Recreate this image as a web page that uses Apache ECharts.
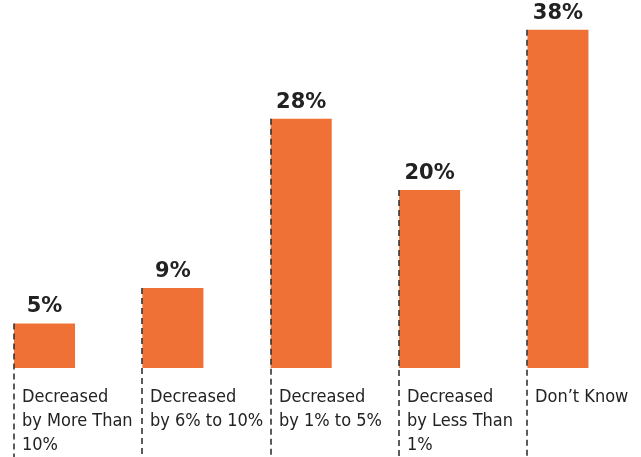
<!DOCTYPE html>
<html>
<head>
<meta charset="utf-8">
<script src="https://cdn.jsdelivr.net/npm/echarts@6/dist/echarts.min.js"></script>
<style>
  html, body { margin: 0; padding: 0; background: #fff; }
  #chart { width: 641px; height: 457px; }
</style>
</head>
<body>
<div id="chart"></div>
<script>
const categories = [
  'Decreased\nby More Than\n10%',
  'Decreased\nby 6% to 10%',
  'Decreased\nby 1% to 5%',
  'Decreased\nby Less Than\n1%',
  'Don\u2019t Know'
];
const values = [5, 9, 28, 20, 38];

const barWidth = 61;
const orange = '#EF7135';
const ink = '#222222';

const chart = echarts.init(document.getElementById('chart'));

// dashed guide at the left edge of each bar + left-aligned category text
const renderGuide = (params, api) => {
  const i = api.value(0);
  const top = api.coord([i, api.value(1)]);
  const base = api.coord([i, 0]);
  const x = Math.round(top[0] - barWidth / 2);
  return {
    type: 'group',
    children: [
      {
        type: 'line',
        shape: { x1: x, y1: top[1], x2: x, y2: api.getHeight() },
        style: { stroke: '#333', lineWidth: 1.6, lineDash: [6, 4] }
      },
      {
        type: 'text',
        style: {
          x: x + 8,
          y: base[1] + 17,
          text: categories[i],
          fill: ink,
          font: '18px "DejaVu Sans Condensed", "DejaVu Sans", sans-serif',
          lineHeight: 24,
          verticalAlign: 'top',
          align: 'left'
        }
      }
    ]
  };
};

chart.setOption({
  animation: false,
  grid: { left: 0, right: 0, top: 12, bottom: 89 },
  xAxis: {
    type: 'value',
    min: -0.347,
    max: 4.647,
    show: false
  },
  yAxis: {
    type: 'value',
    min: 0,
    max: 40,
    show: false
  },
  series: [
    {
      type: 'bar',
      data: values.map((v, i) => [i, v]),
      barWidth: barWidth,
      itemStyle: { color: orange },
      label: {
        show: true,
        position: 'top',
        distance: 6,
        formatter: p => p.value[1] + '%',
        fontFamily: 'DejaVu Sans',
        fontWeight: 'bold',
        fontSize: 21,
        color: ink
      }
    },
    {
      type: 'custom',
      data: values.map((v, i) => [i, v]),
      renderItem: renderGuide,
      z: 5,
      silent: true
    }
  ]
});
</script>
</body>
</html>
